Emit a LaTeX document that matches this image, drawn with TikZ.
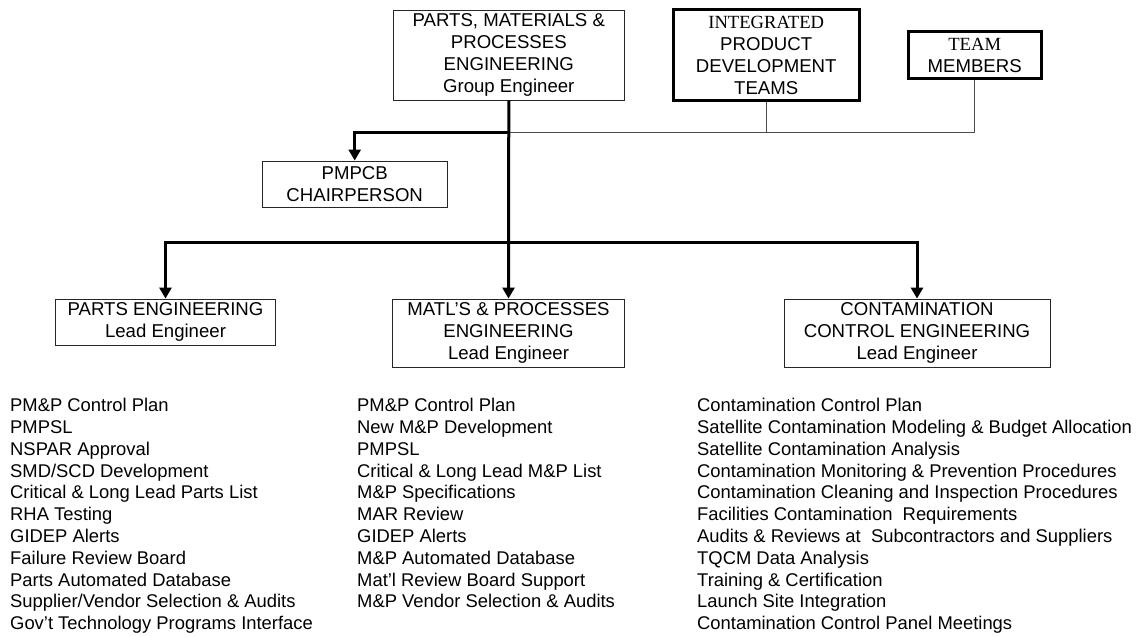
\documentclass[tikz,border=0pt]{standalone}
\usepackage{fontspec}
\setmainfont{Liberation Sans}[Ligatures=ResetAll]
\newfontfamily\tms{Liberation Serif}
\usetikzlibrary{arrows.meta}
\begin{document}
\begin{tikzpicture}[x=1pt,y=-1pt,
  box/.style={draw=black!85,line width=0.9pt,rectangle,inner sep=0pt,align=center,
    font=\fontsize{18.6}{22}\selectfont},
  boldbox/.style={box,draw=black,line width=3pt},
  thickline/.style={line width=3pt,black},
  thinline/.style={line width=1.2pt,black!70},
  arr/.style={-{Triangle[length=11pt,width=12pt]}},
  item/.style={anchor=base west,inner sep=0pt,font=\fontsize{18.4}{22}\selectfont}]
\useasboundingbox (0,0) rectangle (1138,637);
\node[box,minimum width=231pt,minimum height=90pt] (pmp) at (508.8,55)
  {PARTS, MATERIALS \&\\PROCESSES\\ENGINEERING\\Group Engineer};
\node[boldbox,minimum width=186pt,minimum height=91pt] (ipdt) at (766.2,55)
  {{\tms INTEGRATED}\\PRODUCT\\DEVELOPMENT\\TEAMS};
\node[boldbox,minimum width=133pt,minimum height=47pt] (team) at (974.7,55)
  {{\tms TEAM}\\MEMBERS};
\node[box,minimum width=185pt,minimum height=46pt] (pmpcb) at (354.7,184)
  {PMPCB\\CHAIRPERSON};
\node[box,minimum width=220pt,minimum height=46pt] (parts) at (165.5,322)
  {PARTS ENGINEERING\\Lead Engineer};
\node[box,minimum width=232pt,minimum height=68pt] (matl) at (508.5,333)
  {MATL'S \& PROCESSES\\ENGINEERING\\Lead Engineer};
\node[box,minimum width=266pt,minimum height=68pt] (cont) at (917,333)
  {CONTAMINATION\\CONTROL ENGINEERING\\Lead Engineer};
\coordinate (j1) at (508.8,132.3);
\coordinate (j2) at (508.8,242.3);
\coordinate (tr) at (974.7,132.3);
% thin team lines
\draw[thinline] (j1) -- (tr);
\draw[thinline] (ipdt.south) -- (ipdt.south |- j1);
\draw[thinline] (team.south) -- (tr);
% thick lines
\draw[thickline,arr] (pmp.south) -- (matl.north);
\draw[thickline,arr] (j1) -| (pmpcb.north);
\draw[thickline,arr] (j2) -| (parts.north);
\draw[thickline,arr] (j2) -| (cont.north);
% lists
\foreach \t [count=\i from 0] in {PM\&P Control Plan,PMPSL,NSPAR Approval,SMD/SCD Development,Critical \& Long Lead Parts List,RHA Testing,GIDEP Alerts,Failure Review Board,Parts Automated Database,Supplier/Vendor Selection \& Audits,Gov't Technology Programs Interface}
  \node[item] (a\i) at (10,411.7+21.8*\i) {\t};
\foreach \t [count=\i from 0] in {PM\&P Control Plan,New M\&P Development,PMPSL,Critical \& Long Lead M\&P List,M\&P Specifications,MAR Review,GIDEP Alerts,M\&P Automated Database,Mat'l Review Board Support,M\&P Vendor Selection \& Audits}
  \node[item] (b\i) at (357,411.7+21.8*\i) {\t};
\foreach \t [count=\i from 0] in {Contamination Control Plan,Satellite Contamination Modeling \& Budget Allocation,Satellite Contamination Analysis,Contamination Monitoring \& Prevention Procedures,Contamination Cleaning and Inspection Procedures,Facilities Contamination\ \ Requirements,Audits \& Reviews at\ \ Subcontractors and Suppliers,TQCM Data Analysis,Training \& Certification,Launch Site Integration,Contamination Control Panel Meetings}
  \node[item] (c\i) at (697,411.7+21.8*\i) {\t};
\end{tikzpicture}
\end{document}
